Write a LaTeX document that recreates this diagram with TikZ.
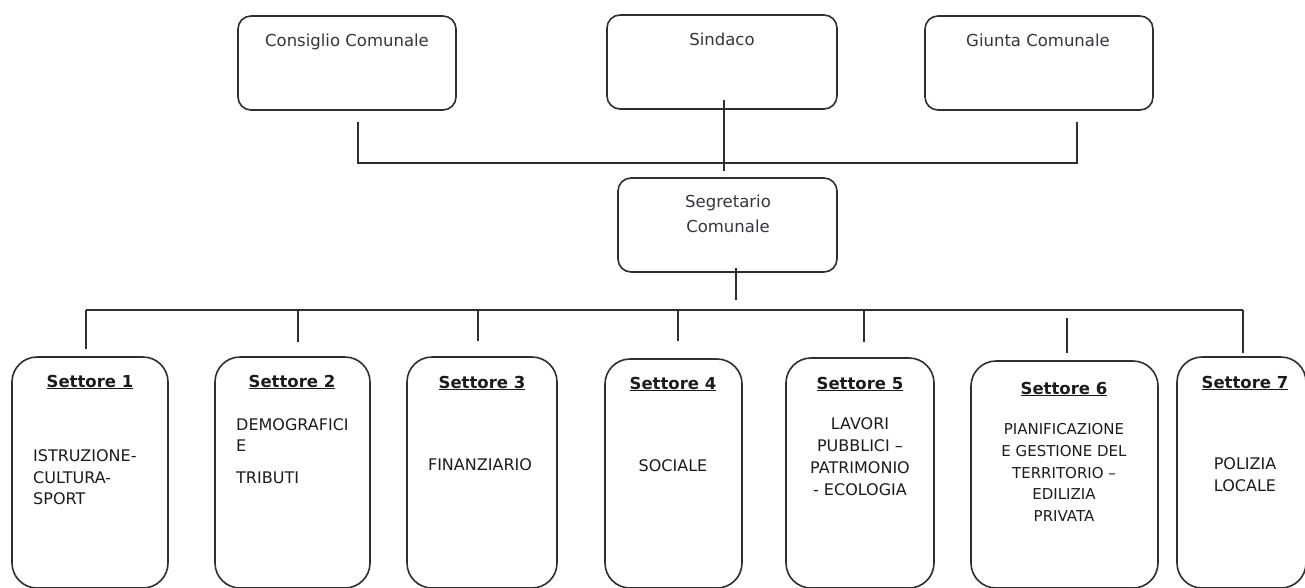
\documentclass[tikz,border=0pt]{standalone}
\usepackage{fontspec}
\setmainfont{DejaVu Sans}
\definecolor{linec}{HTML}{2F2F2F}
\definecolor{toptxt}{HTML}{35353F}
\definecolor{bodytxt}{HTML}{1C1C1C}
\tikzset{
  topbox/.style={draw=linec, line width=1.6pt, rounded corners=13pt, inner sep=0pt, minimum height=94pt},
  secbox/.style={draw=linec, line width=1.6pt, rounded corners=25pt, inner sep=0pt},
  conn/.style={draw=linec, line width=1.4pt},
  toptext/.style={font=\fontsize{16.5}{20}\selectfont, text=toptxt, inner sep=0pt, anchor=base},
  sectitle/.style={font=\fontsize{16.5}{20}\selectfont\bfseries, text=bodytxt, inner sep=0pt, anchor=base},
  bodyc/.style={font=\fontsize{16}{22}\selectfont, text=bodytxt, inner sep=0pt, anchor=base},
  bodyl/.style={font=\fontsize{16}{22}\selectfont, text=bodytxt, inner sep=0pt, anchor=base west},
  bodys/.style={font=\fontsize{15}{22}\selectfont, text=bodytxt, inner sep=0pt, anchor=base}
}
\begin{document}
\begin{tikzpicture}[x=1pt,y=-1pt]
\useasboundingbox (0,0) rectangle (1305,587);
\fill[white] (0,0) rectangle (1305,587);

% top boxes
\node[topbox, minimum width=218pt] (cons) at (347,63) {};
\node[topbox, minimum width=230pt] (sind) at (722,62) {};
\node[topbox, minimum width=228pt] (giun) at (1039,63) {};
\node[topbox, minimum width=219pt] (segr) at (727.5,225) {};

\node[toptext] (consT) at (347,46) {Consiglio Comunale};
\node[toptext] (sindT) at (722,45) {Sindaco};
\node[toptext] (giunT) at (1038,46) {Giunta Comunale};
\node[toptext] (segrT1) at (728,207) {Segretario};
\node[toptext] (segrT2) at (728,232) {Comunale};

% top connectors
\coordinate (consEnd) at (358,122);
\coordinate (busL) at (358,163);
\coordinate (busR) at (1077,163);
\coordinate (giunEnd) at (1077,122);
\draw[conn] (consEnd) -- (busL) -- (busR) -- (giunEnd);
\coordinate (sindEnd) at (724,100);
\coordinate (segrEnd) at (724,171);
\draw[conn] (sindEnd) -- (segrEnd);
\coordinate (segrOut) at (736,268);
\coordinate (segrDrop) at (736,300);
\draw[conn] (segrOut) -- (segrDrop);

% bottom bus
\coordinate (bbL) at (86,310);
\coordinate (bbR) at (1243,310);
\draw[conn] (bbL) -- (bbR);

% sector boxes
\node[secbox, minimum width=156pt, minimum height=231pt] (s1) at (90,472.5) {};
\node[secbox, minimum width=155pt, minimum height=231pt] (s2) at (292.5,472.5) {};
\node[secbox, minimum width=150pt, minimum height=231pt] (s3) at (482,472.5) {};
\node[secbox, minimum width=137pt, minimum height=229pt] (s4) at (673.5,473.5) {};
\node[secbox, minimum width=148pt, minimum height=230pt] (s5) at (860,473) {};
\node[secbox, minimum width=187pt, minimum height=227pt] (s6) at (1064.5,474.5) {};
\node[secbox, minimum width=129pt, minimum height=231pt] (s7) at (1241.5,472.5) {};

% drops
\coordinate (d1) at (86,349);
\draw[conn] (bbL) -- (d1);
\coordinate (d2a) at (298,310); \coordinate (d2) at (298,342);
\draw[conn] (d2a) -- (d2);
\coordinate (d3a) at (478,310); \coordinate (d3) at (478,341);
\draw[conn] (d3a) -- (d3);
\coordinate (d4a) at (678,310); \coordinate (d4) at (678,341);
\draw[conn] (d4a) -- (d4);
\coordinate (d5a) at (864,310); \coordinate (d5) at (864,342);
\draw[conn] (d5a) -- (d5);
\coordinate (d6a) at (1067,318); \coordinate (d6) at (1067,353);
\draw[conn] (d6a) -- (d6);
\coordinate (d7) at (1243,353);
\draw[conn] (bbR) -- (d7);

% titles
\node[sectitle] (t1) at (90,387) {\underline{Settore 1}};
\node[sectitle] (t2) at (292,387) {\underline{Settore 2}};
\node[sectitle] (t3) at (482,388) {\underline{Settore 3}};
\node[sectitle] (t4) at (673,389) {\underline{Settore 4}};
\node[sectitle] (t5) at (860,389) {\underline{Settore 5}};
\node[sectitle] (t6) at (1064,394) {\underline{Settore 6}};
\node[sectitle] (t7) at (1245,388) {\underline{Settore 7}};

% bodies
\node[bodyl] (b1a) at (33,461) {ISTRUZIONE-};
\node[bodyl] (b1b) at (33,483) {CULTURA-};
\node[bodyl] (b1c) at (33,504) {SPORT};

\node[bodyl] (b2a) at (236,430) {DEMOGRAFICI};
\node[bodyl] (b2b) at (236,451) {E};
\node[bodyl] (b2c) at (236,483) {TRIBUTI};

\node[bodyc] (b3) at (480,470) {FINANZIARIO};
\node[bodyc] (b4) at (673,471) {SOCIALE};

\node[bodyc] (b5a) at (860,429) {LAVORI};
\node[bodyc] (b5b) at (860,451) {PUBBLICI –};
\node[bodyc] (b5c) at (860,473) {PATRIMONIO};
\node[bodyc] (b5d) at (860,495) {- ECOLOGIA};

\node[bodys] (b6a) at (1064,434) {PIANIFICAZIONE};
\node[bodys] (b6b) at (1064,456) {E GESTIONE DEL};
\node[bodys] (b6c) at (1064,478) {TERRITORIO –};
\node[bodys] (b6d) at (1064,499) {EDILIZIA};
\node[bodys] (b6e) at (1064,521) {PRIVATA};

\node[bodyc] (b7a) at (1245,469) {POLIZIA};
\node[bodyc] (b7b) at (1245,491) {LOCALE};
\end{tikzpicture}
\end{document}
